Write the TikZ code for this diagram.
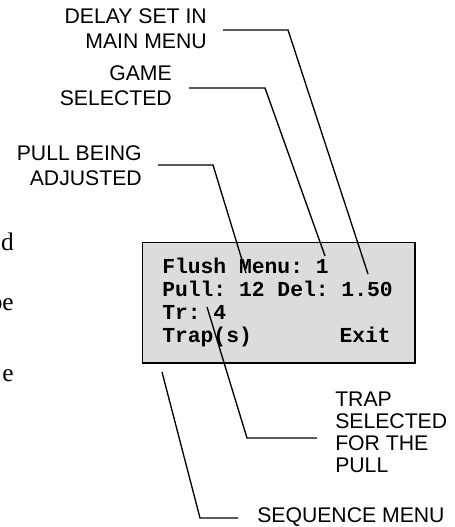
\documentclass[tikz,border=0pt]{standalone}
\usepackage{fontspec}
\setmainfont{Liberation Serif}
\setsansfont{Liberation Sans}
\setmonofont{Liberation Mono}
\usetikzlibrary{calc}
\definecolor{screengray}{RGB}{220,220,220}

\begin{document}
\begin{tikzpicture}[x=0.75pt, y=-0.75pt, inner sep=0pt,
  callout/.style={draw=black, line width=1pt},
  lbl/.style={font=\sffamily\fontsize{15.9}{18.75}\selectfont},
  lcd/.style={font=\ttfamily\bfseries\fontsize{16}{19}\selectfont},
  frag/.style={font=\rmfamily\fontsize{19}{22}\selectfont, anchor=base east},
  screen/.style={draw=black, line width=1.3pt, fill=screengray, anchor=north west}]
	\useasboundingbox (0,0) rectangle (454,527);
	\node[frag] (fragd) at (14,250) {d};
	\node[frag] (fragbe) at (14,310) {be};
	\node[frag] (frage) at (14,381) {e};
	\node[screen, minimum width=204.2pt, minimum height=90.2pt] (screen) at (141.7,241.7) {};
	\node[lcd, anchor=base west] (flush) at (162,273) {Flush Menu: 1};
	\node[lcd, anchor=base west] (pull) at (162,296) {Pull: 12 Del: 1.50};
	\node[lcd, anchor=base west] (tr) at (162,319) {Tr: 4};
	\node[lcd, anchor=base west] (trap) at (162,342) {Trap(s)};
	\node[lcd, anchor=base east] (exit) at (391,342) {Exit};
	\node[lbl, align=right, anchor=north east] (delaylbl) at (207,8) {DELAY SET IN\\MAIN MENU};
	\node[lbl, align=right, anchor=north east] (gamelbl) at (172,65) {GAME\\SELECTED};
	\node[lbl, align=right, anchor=north east] (pulllbl) at (142,145) {PULL BEING\\ADJUSTED};
	\node[lbl, align=left, anchor=north west, font=\sffamily\fontsize{15.9}{16.5}\selectfont] (traplbl) at (335,392) {TRAP\\SELECTED\\FOR THE\\PULL};
	\node[lbl, anchor=north west] (seqlbl) at (257,507) {SEQUENCE MENU};
	\coordinate (delaybend) at (288,30);
	\coordinate (delaytip) at (368,274);
	\coordinate (gamebend) at (265,88);
	\coordinate (gametip) at (325,256);
	\coordinate (pullbend) at (213,165);
	\coordinate (pulltip) at (246,273);
	\coordinate (trapbend) at (247,438);
	\coordinate (traptip) at (207,307);
	\coordinate (seqbend) at (200,518);
	\coordinate (seqtip) at (162,372);
	\draw[callout] ($(delaylbl.east |- delaybend)+(16,0)$) -- (delaybend) -- (delaytip);
	\draw[callout] ($(gamelbl.east |- gamebend)+(17,0)$) -- (gamebend) -- (gametip);
	\draw[callout] ($(pulllbl.east |- pullbend)+(16,0)$) -- (pullbend) -- (pulltip);
	\draw[callout] ($(traplbl.west |- trapbend)+(-18,0)$) -- (trapbend) -- (traptip);
	\draw[callout] ($(seqlbl.west |- seqbend)+(-19,0)$) -- (seqbend) -- (seqtip);
\end{tikzpicture}
\end{document}
